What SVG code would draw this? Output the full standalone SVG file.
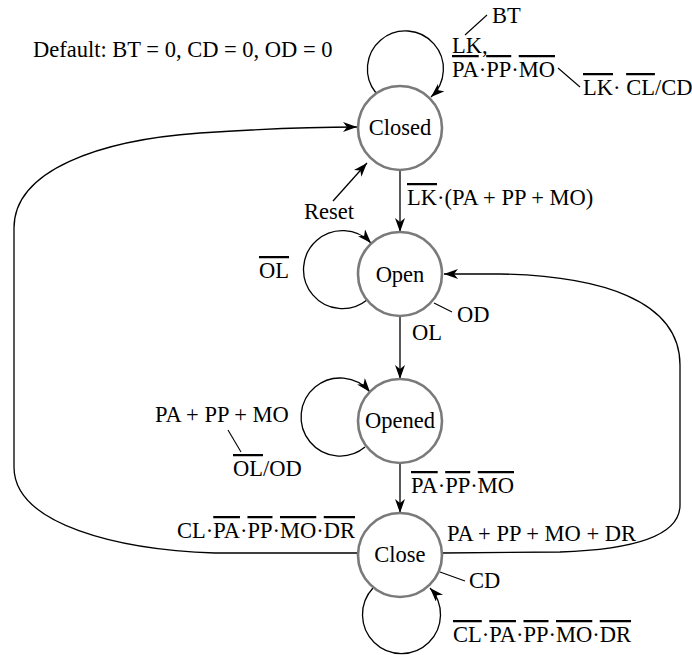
<svg xmlns="http://www.w3.org/2000/svg" width="692" height="655" viewBox="0 0 692 655">
<style>
text{font-family:"Liberation Serif","Times New Roman",serif;font-size:22.5px;fill:#000}
.st{fill:#fff;stroke:#7a7a7a;stroke-width:2.6}
.nl{text-anchor:middle}
.c{fill:none;stroke:#000;stroke-width:1.3}
.ld{fill:none;stroke:#000;stroke-width:1.1}
.ov{text-decoration:overline}
</style>
<defs>
<marker id="ah" markerUnits="userSpaceOnUse" markerWidth="15" markerHeight="10" refX="14" refY="5" orient="auto">
<path d="M0,0 L14,5 L0,10 L4,5 z" fill="#000"/>
</marker>
</defs>
<text x="33" y="57">Default: BT = 0, CD = 0, OD = 0</text>
<g id="connectors">
<path class="c" d="M376 93 A38 38 0 1 1 431 97" marker-end="url(#ah)"/>
<path class="c" d="M400 170 L400 232" marker-end="url(#ah)"/>
<path class="c" d="M333 201 L367 163" marker-end="url(#ah)"/>
<path class="c" d="M367 300 A39 39 0 1 1 371 243" marker-end="url(#ah)"/>
<path class="c" d="M400 316 L400 379" marker-end="url(#ah)"/>
<path class="c" d="M365 447 A39 39 0 1 1 370 392" marker-end="url(#ah)"/>
<path class="c" d="M400 463 L400 513" marker-end="url(#ah)"/>
<path class="c" d="M373 588 A39 39 0 1 0 430 588" marker-end="url(#ah)"/>
<path class="c" d="M358 553 L215 553 C120 550 14 525 14 467 L14 228 C14 170 100 140 200 133 C260 129 310 127 357 127" marker-end="url(#ah)"/>
<path class="c" d="M443 553 L560 552 C620 550 680 540 680 505 L680 365 C680 300 600 276 500 274 L444 274" marker-end="url(#ah)"/>
<line class="ld" x1="465" y1="35" x2="487" y2="15"/>
<line class="ld" x1="558" y1="68" x2="580" y2="87"/>
<line class="ld" x1="434" y1="303" x2="452" y2="312"/>
<line class="ld" x1="228" y1="430" x2="241" y2="452"/>
<line class="ld" x1="440" y1="572" x2="465" y2="581"/>
<text x="492" y="23">BT</text>
<text x="452" y="53">LK,</text>
<text x="452" y="77"><tspan class="ov">PA</tspan>·<tspan class="ov">PP</tspan>·<tspan class="ov">MO</tspan></text>
<text x="583" y="95"><tspan class="ov">LK</tspan>· <tspan class="ov">CL</tspan>/CD</text>
<text x="407" y="205"><tspan class="ov">LK</tspan>·(PA + PP + MO)</text>
<text x="304" y="219">Reset</text>
<text x="259" y="278"><tspan class="ov">OL</tspan></text>
<text x="457" y="322">OD</text>
<text x="412" y="340">OL</text>
<text x="155" y="422">PA + PP + MO</text>
<text x="233" y="476"><tspan class="ov">OL</tspan>/OD</text>
<text x="411" y="493"><tspan class="ov">PA</tspan>·<tspan class="ov">PP</tspan>·<tspan class="ov">MO</tspan></text>
<text x="177" y="538">CL·<tspan class="ov">PA</tspan>·<tspan class="ov">PP</tspan>·<tspan class="ov">MO</tspan>·<tspan class="ov">DR</tspan></text>
<text x="447" y="541">PA + PP + MO + DR</text>
<text x="469" y="588">CD</text>
<text x="453" y="642"><tspan class="ov">CL</tspan>·<tspan class="ov">PA</tspan>·<tspan class="ov">PP</tspan>·<tspan class="ov">MO</tspan>·<tspan class="ov">DR</tspan></text>
</g>
<g id="closed"><circle class="st" cx="400" cy="128" r="42"/><text class="nl" x="400" y="135">Closed</text></g>
<g id="open"><circle class="st" cx="400" cy="274" r="42"/><text class="nl" x="400" y="282">Open</text></g>
<g id="opened"><circle class="st" cx="400" cy="421" r="42"/><text class="nl" x="400" y="428">Opened</text></g>
<g id="close"><circle class="st" cx="400" cy="555" r="42"/><text class="nl" x="400" y="562">Close</text></g>
</svg>
